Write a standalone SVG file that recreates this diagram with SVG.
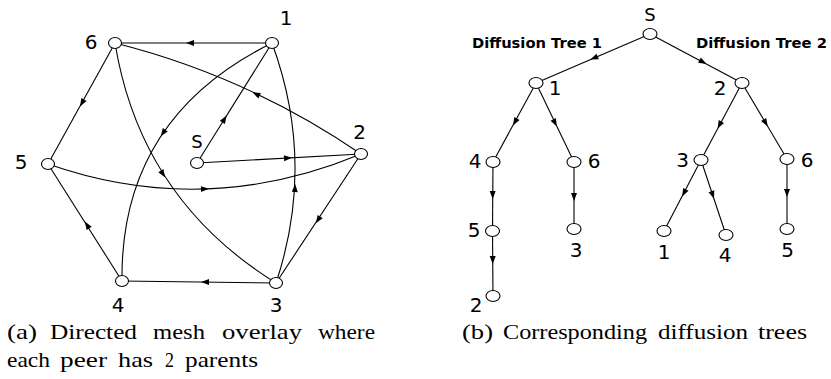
<svg xmlns="http://www.w3.org/2000/svg" xmlns:xlink="http://www.w3.org/1999/xlink" width="831" height="379" viewBox="0 0 831 379">
<style>
.e{fill:none;stroke:#000;stroke-width:1.1}
.n{fill:#fff;stroke:#000;stroke-width:1.1}
.l{font-family:"DejaVu Sans",sans-serif;font-size:20px;fill:#000;text-anchor:middle}
.s{font-family:"DejaVu Sans",sans-serif;font-size:18px;fill:#000;text-anchor:middle}
.t{font-family:"DejaVu Sans",sans-serif;font-size:14px;font-weight:bold;fill:#000}
.c{font-family:"Liberation Serif","Times New Roman",serif;font-size:22px;fill:#000}
</style>
<defs>
<path id="ah" d="M4,0 L-4,-3 L-4,3 Z" fill="#000"/>
</defs>
<rect width="831" height="379" fill="#fff"/>
<g id="connectors">
<!-- mesh -->
<line class="e" x1="272" y1="43" x2="115" y2="43"/>
<line class="e" x1="197" y1="163" x2="272" y2="43"/>
<line class="e" x1="197" y1="163" x2="361" y2="154"/>
<line class="e" x1="115" y1="43" x2="48" y2="164"/>
<line class="e" x1="122" y1="281" x2="48" y2="164"/>
<line class="e" x1="276" y1="283" x2="122" y2="281"/>
<line class="e" x1="361" y1="154" x2="276" y2="283"/>
<path class="e" d="M361,154 Q248,76.5 115,43"/>
<path class="e" d="M48,164 Q205,219 361,154"/>
<path class="e" d="M276,283 Q316,163 272,43"/>
<path class="e" d="M115,43 Q140.5,199 276,283"/>
<path class="e" d="M272,43 Q120,118 122,281"/>
<use href="#ah" transform="translate(190,43) rotate(180)"/>
<use href="#ah" transform="translate(224.5,119) rotate(-58)"/>
<use href="#ah" transform="translate(288,158) rotate(-3.1)"/>
<use href="#ah" transform="translate(82,103) rotate(118.9)"/>
<use href="#ah" transform="translate(87,225) rotate(237.7)"/>
<use href="#ah" transform="translate(205,282) rotate(180.7)"/>
<use href="#ah" transform="translate(318,220) rotate(123.4)"/>
<use href="#ah" transform="translate(256,94) rotate(205)"/>
<use href="#ah" transform="translate(205,189) rotate(-1.8)"/>
<use href="#ah" transform="translate(295,188) rotate(-87)"/>
<use href="#ah" transform="translate(163,174) rotate(57.7)"/>
<use href="#ah" transform="translate(163,133) rotate(124.4)"/>
<!-- trees -->
<line class="e" x1="650" y1="34" x2="536" y2="83"/>
<line class="e" x1="650" y1="34" x2="742" y2="83"/>
<line class="e" x1="536" y1="83" x2="493" y2="162"/>
<line class="e" x1="536" y1="83" x2="574" y2="162"/>
<line class="e" x1="493" y1="162" x2="492.5" y2="231"/>
<line class="e" x1="574" y1="162" x2="574" y2="229"/>
<line class="e" x1="492.5" y1="231" x2="493" y2="296"/>
<line class="e" x1="742" y1="83" x2="701" y2="160"/>
<line class="e" x1="742" y1="83" x2="787" y2="159"/>
<line class="e" x1="701" y1="160" x2="664" y2="231"/>
<line class="e" x1="701" y1="160" x2="726" y2="235"/>
<line class="e" x1="787" y1="159" x2="787" y2="229"/>
<use href="#ah" transform="translate(594,58) rotate(156.7)"/>
<use href="#ah" transform="translate(703,62) rotate(28)"/>
<use href="#ah" transform="translate(515,122) rotate(118.6)"/>
<use href="#ah" transform="translate(555,123) rotate(64.3)"/>
<use href="#ah" transform="translate(492.7,195) rotate(90)"/>
<use href="#ah" transform="translate(574,197) rotate(90)"/>
<use href="#ah" transform="translate(492.7,260) rotate(90)"/>
<use href="#ah" transform="translate(719.5,125) rotate(118)"/>
<use href="#ah" transform="translate(765.7,123) rotate(59.4)"/>
<use href="#ah" transform="translate(684,193) rotate(117.5)"/>
<use href="#ah" transform="translate(712.7,195) rotate(71.6)"/>
<use href="#ah" transform="translate(787,193) rotate(90)"/>
</g>
<!-- mesh nodes -->
<g id="m1"><ellipse class="n" cx="272" cy="43" rx="6.5" ry="5.5"/><text class="l" x="286" y="25">1</text></g>
<g id="m6"><ellipse class="n" cx="115" cy="43" rx="6.5" ry="5.5"/><text class="l" x="91" y="49">6</text></g>
<g id="m2"><ellipse class="n" cx="361" cy="154" rx="6.5" ry="5.5"/><text class="l" x="359.5" y="139">2</text></g>
<g id="m5"><ellipse class="n" cx="48" cy="164" rx="6.5" ry="5.5"/><text class="l" x="21" y="169">5</text></g>
<g id="mS"><ellipse class="n" cx="197" cy="163" rx="6.5" ry="5.5"/><text class="s" x="197" y="148">S</text></g>
<g id="m4"><ellipse class="n" cx="122" cy="281" rx="6.5" ry="5.5"/><text class="l" x="118" y="312">4</text></g>
<g id="m3"><ellipse class="n" cx="276" cy="283" rx="6.5" ry="5.5"/><text class="l" x="276" y="312">3</text></g>
<!-- tree nodes -->
<g id="tS"><ellipse class="n" cx="650" cy="34" rx="7" ry="5.5"/><text class="s" x="650" y="21">S</text></g>
<g id="t1"><ellipse class="n" cx="536" cy="83" rx="7" ry="5.5"/><text class="l" x="555" y="95">1</text></g>
<g id="t2"><ellipse class="n" cx="742" cy="83" rx="7" ry="5.5"/><text class="l" x="720" y="95">2</text></g>
<g id="t1-4"><ellipse class="n" cx="493" cy="162" rx="7" ry="5.5"/><text class="l" x="475" y="168">4</text></g>
<g id="t1-6"><ellipse class="n" cx="574" cy="162" rx="7" ry="5.5"/><text class="l" x="594" y="168">6</text></g>
<g id="t1-5"><ellipse class="n" cx="492.5" cy="231" rx="7" ry="5.5"/><text class="l" x="474" y="237">5</text></g>
<g id="t1-3"><ellipse class="n" cx="574" cy="229" rx="7" ry="5.5"/><text class="l" x="576" y="257">3</text></g>
<g id="t1-2"><ellipse class="n" cx="493" cy="296" rx="7" ry="5.5"/><text class="l" x="476" y="312">2</text></g>
<g id="t2-3"><ellipse class="n" cx="701" cy="160" rx="7" ry="5.5"/><text class="l" x="682.5" y="167">3</text></g>
<g id="t2-6"><ellipse class="n" cx="787" cy="159" rx="7" ry="5.5"/><text class="l" x="807" y="167">6</text></g>
<g id="t2-1"><ellipse class="n" cx="664" cy="231" rx="7" ry="5.5"/><text class="l" x="664" y="259">1</text></g>
<g id="t2-4"><ellipse class="n" cx="726" cy="235" rx="7" ry="5.5"/><text class="l" x="725" y="262">4</text></g>
<g id="t2-5"><ellipse class="n" cx="787" cy="229" rx="7" ry="5.5"/><text class="l" x="787.5" y="257">5</text></g>
<text class="t" x="472" y="48" textLength="130" lengthAdjust="spacingAndGlyphs">Diffusion Tree 1</text>
<text class="t" x="696" y="48" textLength="131" lengthAdjust="spacingAndGlyphs">Diffusion Tree 2</text>
<!-- captions -->
<text class="c" y="339"><tspan x="7" textLength="30" lengthAdjust="spacingAndGlyphs">(a)</tspan><tspan x="50" textLength="87" lengthAdjust="spacingAndGlyphs">Directed</tspan><tspan x="153" textLength="52" lengthAdjust="spacingAndGlyphs">mesh</tspan><tspan x="222" textLength="80" lengthAdjust="spacingAndGlyphs">overlay</tspan><tspan x="318" textLength="57" lengthAdjust="spacingAndGlyphs">where</tspan></text>
<text class="c" y="367"><tspan x="7" textLength="43" lengthAdjust="spacingAndGlyphs">each</tspan><tspan x="60" textLength="47" lengthAdjust="spacingAndGlyphs">peer</tspan><tspan x="118" textLength="35" lengthAdjust="spacingAndGlyphs">has</tspan><tspan x="165" textLength="9" lengthAdjust="spacingAndGlyphs">2</tspan><tspan x="185" textLength="73" lengthAdjust="spacingAndGlyphs">parents</tspan></text>
<text class="c" y="339"><tspan x="462" textLength="31" lengthAdjust="spacingAndGlyphs">(b)</tspan><tspan x="503" textLength="144" lengthAdjust="spacingAndGlyphs">Corresponding</tspan><tspan x="658" textLength="90" lengthAdjust="spacingAndGlyphs">diffusion</tspan><tspan x="758" textLength="49" lengthAdjust="spacingAndGlyphs">trees</tspan></text>
</svg>
